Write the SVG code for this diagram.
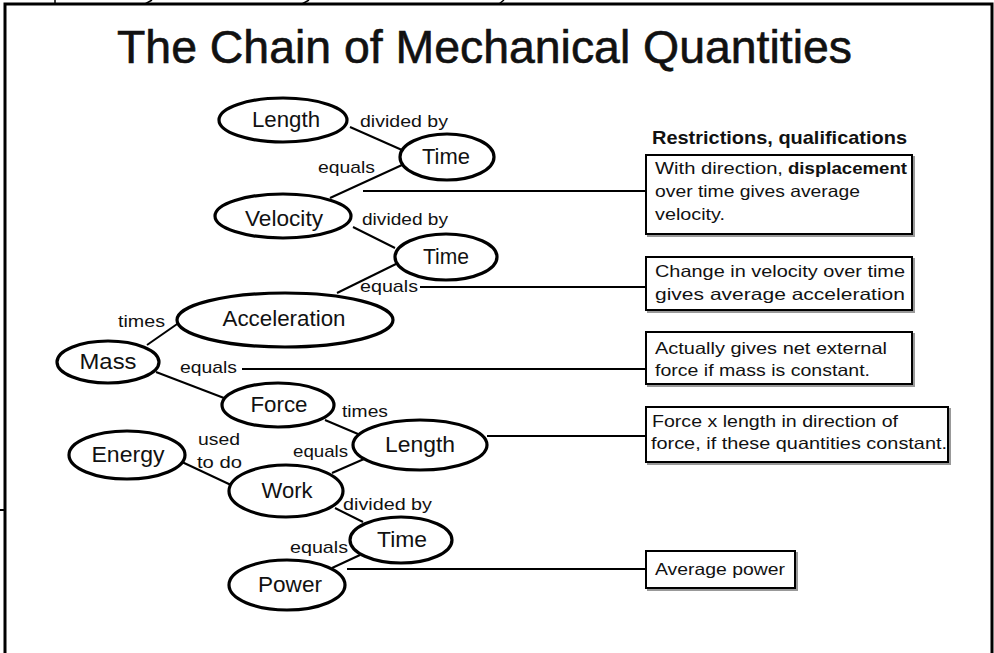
<svg xmlns="http://www.w3.org/2000/svg" width="994" height="653" viewBox="0 0 994 653">
<style>
.node ellipse{fill:#fff;stroke:#000;stroke-width:3.2}
.node text{font-family:"Liberation Sans",Arial,sans-serif;font-size:22px;text-anchor:middle;fill:#111}
.lbl{font-family:"Liberation Sans",Arial,sans-serif;font-size:17px;fill:#111}
.box rect.sh{fill:none;stroke:#999;stroke-width:2}
.box rect.b{fill:#fff;stroke:#000;stroke-width:2}
.box text{font-family:"Liberation Sans",Arial,sans-serif;font-size:16.5px;fill:#111}
#connectors line{stroke:#000;stroke-width:2}
.frame{fill:none;stroke:#000;stroke-width:3}
</style>
<rect x="0" y="0" width="994" height="653" fill="#fff"/>
<g id="frame">
<path class="frame" d="M5,653 V4 H992 V653"/>
<line x1="55" y1="0" x2="55" y2="4" stroke="#000" stroke-width="1.5"/>
<line x1="145" y1="4" x2="152" y2="0" stroke="#000" stroke-width="1.5"/>
<line x1="302" y1="4" x2="309" y2="0" stroke="#000" stroke-width="1.5"/>
<line x1="499" y1="4" x2="504" y2="0" stroke="#000" stroke-width="1.5"/>
<line x1="0" y1="510" x2="5" y2="510" stroke="#000" stroke-width="2"/>
</g>
<text x="117" y="63" font-family="'Liberation Sans',Arial,sans-serif" font-size="46" textLength="735" lengthAdjust="spacingAndGlyphs" fill="#111" stroke="#111" stroke-width="0.6">The Chain of Mechanical Quantities</text>
<text x="652" y="144" font-family="'Liberation Sans',Arial,sans-serif" font-size="19" font-weight="bold" textLength="255" lengthAdjust="spacingAndGlyphs" fill="#111">Restrictions, qualifications</text>

<g id="connectors">
<line x1="350" y1="127" x2="402" y2="150"/>
<line x1="402" y1="165" x2="330" y2="198"/>
<line x1="353" y1="227" x2="395" y2="248"/>
<line x1="398" y1="263" x2="337" y2="293"/>
<line x1="180" y1="322" x2="147" y2="345"/>
<line x1="156" y1="372" x2="224" y2="398"/>
<line x1="325" y1="420" x2="358" y2="434"/>
<line x1="364" y1="459" x2="332" y2="473"/>
<line x1="182" y1="462" x2="231" y2="485"/>
<line x1="335" y1="508" x2="363" y2="522"/>
<line x1="360" y1="555" x2="332" y2="568"/>
<line x1="363" y1="191" x2="646" y2="191"/>
<line x1="420" y1="287" x2="646" y2="287"/>
<line x1="242" y1="369" x2="646" y2="369"/>
<line x1="487" y1="436" x2="646" y2="436"/>
<line x1="347" y1="569" x2="646" y2="569"/>
</g>

<g id="edge-labels">
<text class="lbl" x="360" y="127" textLength="88" lengthAdjust="spacingAndGlyphs">divided by</text>
<text class="lbl" x="318" y="173" textLength="57" lengthAdjust="spacingAndGlyphs">equals</text>
<text class="lbl" x="362" y="225" textLength="86" lengthAdjust="spacingAndGlyphs">divided by</text>
<text class="lbl" x="360" y="292" textLength="58" lengthAdjust="spacingAndGlyphs">equals</text>
<text class="lbl" x="118" y="327" textLength="47" lengthAdjust="spacingAndGlyphs">times</text>
<text class="lbl" x="180" y="373" textLength="57" lengthAdjust="spacingAndGlyphs">equals</text>
<text class="lbl" x="342" y="417" textLength="46" lengthAdjust="spacingAndGlyphs">times</text>
<text class="lbl" x="198" y="445" textLength="42" lengthAdjust="spacingAndGlyphs">used</text>
<text class="lbl" x="197" y="468" textLength="45" lengthAdjust="spacingAndGlyphs">to do</text>
<text class="lbl" x="293" y="457" textLength="55" lengthAdjust="spacingAndGlyphs">equals</text>
<text class="lbl" x="343" y="510" textLength="89" lengthAdjust="spacingAndGlyphs">divided by</text>
<text class="lbl" x="290" y="553" textLength="58" lengthAdjust="spacingAndGlyphs">equals</text>
</g>

<g id="n-length1" class="node"><ellipse cx="283" cy="120" rx="64" ry="22"/><text x="286" y="127" textLength="68" lengthAdjust="spacingAndGlyphs">Length</text></g>
<g id="n-time1" class="node"><ellipse cx="447" cy="157" rx="47" ry="23"/><text x="446" y="164" textLength="48" lengthAdjust="spacingAndGlyphs">Time</text></g>
<g id="n-velocity" class="node"><ellipse cx="283" cy="216" rx="68" ry="22"/><text x="284" y="226" textLength="78" lengthAdjust="spacingAndGlyphs">Velocity</text></g>
<g id="n-time2" class="node"><ellipse cx="446" cy="257" rx="51" ry="23"/><text x="446" y="264" textLength="46" lengthAdjust="spacingAndGlyphs">Time</text></g>
<g id="n-acceleration" class="node"><ellipse cx="285" cy="320" rx="108" ry="27"/><text x="284" y="326" textLength="123" lengthAdjust="spacingAndGlyphs">Acceleration</text></g>
<g id="n-mass" class="node"><ellipse cx="108" cy="362" rx="51" ry="21"/><text x="108" y="369" textLength="57" lengthAdjust="spacingAndGlyphs">Mass</text></g>
<g id="n-force" class="node"><ellipse cx="278" cy="405" rx="56" ry="22"/><text x="279" y="412" textLength="57" lengthAdjust="spacingAndGlyphs">Force</text></g>
<g id="n-length2" class="node"><ellipse cx="420" cy="445" rx="67" ry="25"/><text x="420" y="452" textLength="70" lengthAdjust="spacingAndGlyphs">Length</text></g>
<g id="n-energy" class="node"><ellipse cx="127" cy="455" rx="58" ry="24"/><text x="128" y="462" textLength="73" lengthAdjust="spacingAndGlyphs">Energy</text></g>
<g id="n-work" class="node"><ellipse cx="286" cy="491" rx="57" ry="26"/><text x="287" y="498" textLength="51" lengthAdjust="spacingAndGlyphs">Work</text></g>
<g id="n-time3" class="node"><ellipse cx="401" cy="540" rx="51" ry="23"/><text x="402" y="547" textLength="50" lengthAdjust="spacingAndGlyphs">Time</text></g>
<g id="n-power" class="node"><ellipse cx="287" cy="585" rx="58" ry="25"/><text x="290" y="592" textLength="64" lengthAdjust="spacingAndGlyphs">Power</text></g>

<g id="b-velocity" class="box">
<rect class="sh" x="648" y="157" width="266" height="79"/>
<rect class="b" x="646" y="155" width="266" height="79"/>
<text x="655" y="174" textLength="128" lengthAdjust="spacingAndGlyphs">With direction,</text>
<text x="788" y="174" font-weight="bold" textLength="119" lengthAdjust="spacingAndGlyphs">displacement</text>
<text x="655" y="197" textLength="205" lengthAdjust="spacingAndGlyphs">over time gives average</text>
<text x="655" y="220" textLength="70" lengthAdjust="spacingAndGlyphs">velocity.</text>
</g>
<g id="b-acceleration" class="box">
<rect class="sh" x="648" y="259" width="266" height="53"/>
<rect class="b" x="646" y="257" width="266" height="53"/>
<text x="655" y="277" textLength="250" lengthAdjust="spacingAndGlyphs">Change in velocity over time</text>
<text x="655" y="300" textLength="250" lengthAdjust="spacingAndGlyphs">gives average acceleration</text>
</g>
<g id="b-force" class="box">
<rect class="sh" x="648" y="334" width="266" height="52"/>
<rect class="b" x="646" y="332" width="266" height="52"/>
<text x="655" y="354" textLength="232" lengthAdjust="spacingAndGlyphs">Actually gives  net external</text>
<text x="655" y="376" textLength="215" lengthAdjust="spacingAndGlyphs">force if mass is constant.</text>
</g>
<g id="b-work" class="box">
<rect class="sh" x="648" y="409" width="302" height="55"/>
<rect class="b" x="646" y="407" width="302" height="55"/>
<text x="652" y="427" textLength="246" lengthAdjust="spacingAndGlyphs">Force x length in direction of</text>
<text x="651" y="449" textLength="296" lengthAdjust="spacingAndGlyphs">force, if these quantities constant.</text>
</g>
<g id="b-power" class="box">
<rect class="sh" x="648" y="553" width="149" height="37"/>
<rect class="b" x="646" y="551" width="149" height="37"/>
<text x="655" y="575" textLength="130" lengthAdjust="spacingAndGlyphs">Average power</text>
</g>
</svg>
